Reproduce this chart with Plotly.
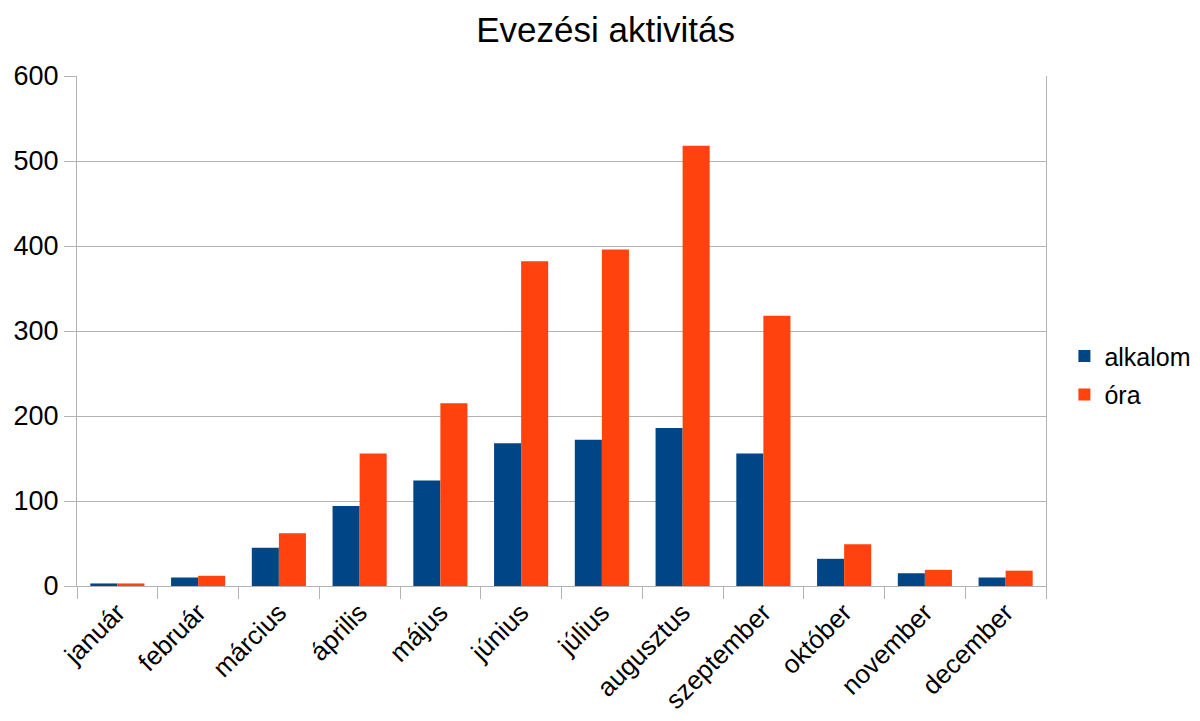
import plotly.graph_objects as go

months = ["január", "február", "március", "április", "május", "június",
          "július", "augusztus", "szeptember", "október", "november", "december"]
alkalom = [3, 10, 45, 94, 124, 168, 172, 186, 156, 32, 15, 10]
ora = [3, 12, 62, 156, 215, 382, 396, 518, 318, 49, 19, 18]
y_ticks = [0, 100, 200, 300, 400, 500, 600]

FONT = "Liberation Sans, Arial, sans-serif"

fig = go.Figure()
fig.add_trace(go.Bar(x=months, y=alkalom, name="alkalom", marker_color="#004586",
                     marker_line_width=0, legendgroup="a"))
fig.add_trace(go.Bar(x=months, y=ora, name="óra", marker_color="#ff420e",
                     marker_line_width=0, legendgroup="b"))

fig.update_layout(
    width=1200, height=721,
    paper_bgcolor="white", plot_bgcolor="white",
    margin=dict(l=69, r=155, t=68, b=143),
    barmode="group", bargap=0.33, bargroupgap=0,
    font=dict(family=FONT, color="#000000", size=25),
    title=dict(text="Evezési aktivitás", x=0.498, xanchor="center", y=0.9695, yanchor="middle",
               font=dict(size=35, family=FONT)),
    legend=dict(x=1.019, y=0.413, xanchor="left", yanchor="middle",
                font=dict(size=25, family=FONT), itemwidth=30, tracegroupgap=3),
    showlegend=True,
)
fig.update_xaxes(
    type="category", tickangle=-45, tickfont=dict(size=26),
    showline=True, linecolor="#b3b3b3", linewidth=1,
    ticks="outside", tickson="boundaries", ticklen=12, tickcolor="#b3b3b3",
    showgrid=False, automargin=False,
)
fig.update_yaxes(
    range=[0, 600], tickvals=y_ticks, ticktext=[str(v) for v in y_ticks],
    tickfont=dict(size=27),
    showgrid=True, gridcolor="#b3b3b3", gridwidth=1,
    showline=True, linecolor="#b3b3b3", linewidth=1, mirror=True,
    ticks="outside", ticklen=12, tickcolor="#b3b3b3",
    zeroline=False, automargin=False,
)

fig.write_html("out.html")
